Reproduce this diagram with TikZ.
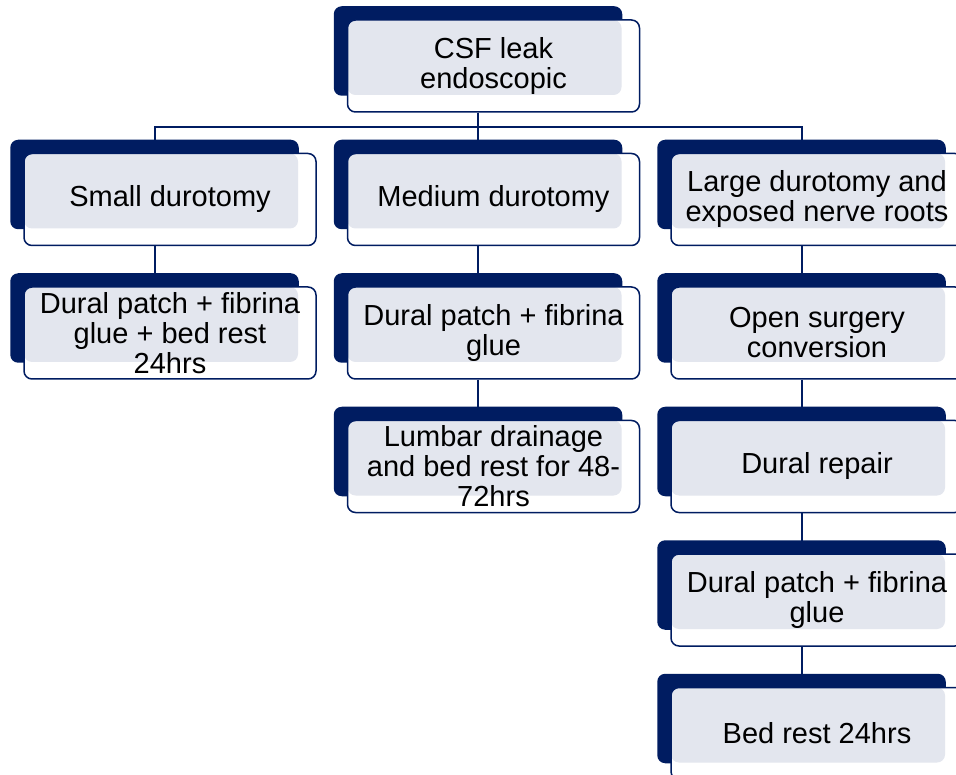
\documentclass[tikz,border=0pt]{standalone}
\usepackage{fontspec}
\setmainfont{Liberation Sans}
\usetikzlibrary{positioning}
\definecolor{navyblue}{HTML}{001C61}
\definecolor{boxgray}{HTML}{E3E6EE}
\pgfdeclarelayer{links}
\pgfdeclarelayer{back}
\pgfsetlayers{links,back,main}
\begin{document}
\begin{tikzpicture}[x=1pt, y=-1pt, node distance=40pt and 30pt,
	main/.style = {draw=navyblue, line width=1.5pt, fill=white, rounded corners=8pt,
		minimum width=292pt, minimum height=92pt, inner sep=2pt, align=center,
		font=\fontsize{29}{30}\selectfont,
		path picture={\fill[boxgray, rounded corners=8pt] (path picture bounding box.north west) rectangle ([shift={(-18pt,17pt)}]path picture bounding box.south east);}},
	back/.style = {fill=navyblue, rounded corners=8pt},
	link/.style = {draw=navyblue, line width=2pt}]
		\useasboundingbox (0,0) rectangle (956,775);
		\node[main] (csf) at (493.5,66) {CSF leak\\endoscopic};
		\node[main] (medium) [below=of csf] {Medium durotomy};
		\node[main] (small) [left=of medium] {Small durotomy};
		\node[main] (large) [right=of medium] {Large durotomy and\\exposed nerve roots};
		\node[main] (dsmall) [below=of small] {Dural patch + fibrina\\glue + bed rest\\24hrs};
		\node[main] (dmedium) [below=of medium] {Dural patch + fibrina\\glue};
		\node[main] (lumbar) [below=of dmedium] {Lumbar drainage\\and bed rest for 48-\\72hrs};
		\node[main] (opensurg) [below=of large] {Open surgery\\conversion};
		\node[main] (repair) [below=of opensurg] {Dural repair};
		\node[main] (dlarge) [below=of repair] {Dural patch + fibrina\\glue};
		\node[main] (bedrest) [below=of dlarge] {Bed rest 24hrs};
		% dark boxes behind
		\begin{pgfonlayer}{back}
		\foreach \n in {csf,small,medium,large,dsmall,dmedium,lumbar,opensurg,repair,dlarge,bedrest}
			\fill[back] ([shift={(-13pt,13pt)}]\n.north west) rectangle ([shift={(-18pt,17pt)}]\n.south east);
		\end{pgfonlayer}
		% connectors
		\begin{pgfonlayer}{links}
		\draw[link] ([xshift=-15.5pt]csf.south) -- ++(0,14) -| ([xshift=-15.5pt]small.north);
		\draw[link] ([xshift=-15.5pt]csf.south) -- ++(0,14) -| ([xshift=-15.5pt]large.north);
		\draw[link] ([xshift=-15.5pt]csf.south) -- ([xshift=-15.5pt]medium.north);
		\draw[link] ([xshift=-15.5pt]small.south) -- ([xshift=-15.5pt]dsmall.north);
		\draw[link] ([xshift=-15.5pt]medium.south) -- ([xshift=-15.5pt]dmedium.north);
		\draw[link] ([xshift=-15.5pt]dmedium.south) -- ([xshift=-15.5pt]lumbar.north);
		\draw[link] ([xshift=-15.5pt]large.south) -- ([xshift=-15.5pt]opensurg.north);
		\draw[link] ([xshift=-15.5pt]opensurg.south) -- ([xshift=-15.5pt]repair.north);
		\draw[link] ([xshift=-15.5pt]repair.south) -- ([xshift=-15.5pt]dlarge.north);
		\draw[link] ([xshift=-15.5pt]dlarge.south) -- ([xshift=-15.5pt]bedrest.north);
		\end{pgfonlayer}
\end{tikzpicture}
\end{document}
